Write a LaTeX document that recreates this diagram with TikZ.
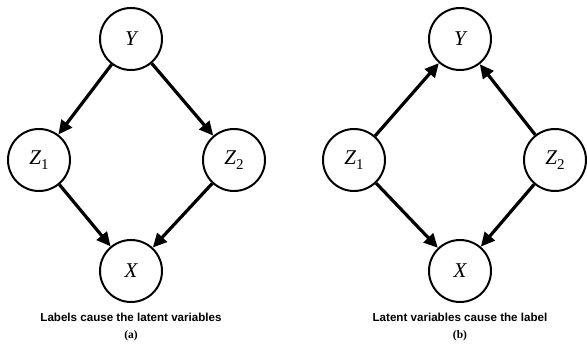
\documentclass[tikz,border=0pt]{standalone}
\usepackage{fontspec}
\setmainfont{Liberation Serif}
\setsansfont{Liberation Sans}
\usetikzlibrary{arrows.meta}
\newcommand{\subdigit}[1]{\raisebox{-0.45ex}{\fontsize{15}{15}\selectfont\upshape #1}}
\begin{document}
\begin{tikzpicture}[x=1pt,y=-1pt,
  var/.style={circle,draw,line width=2pt,minimum size=62pt,inner sep=0pt,font=\fontsize{21}{24}\selectfont\itshape},
  edge/.style={line width=3.2pt,-{Triangle[length=14pt,width=13pt]}},
  captext/.style={font=\sffamily\bfseries\fontsize{11.6}{13}\selectfont},
  sublabel/.style={font=\rmfamily\bfseries\fontsize{11.5}{13}\selectfont}]
\useasboundingbox (0,0) rectangle (587,352);
% panel (a)
\node[var] (ya) at (131,39) {Y};
\node[var] (z1a) at (39,160) {Z\subdigit{1}};
\node[var] (z2a) at (234,160) {Z\subdigit{2}};
\node[var] (xa) at (131,271) {X};
\draw[edge] (ya) -- (z1a);
\draw[edge] (ya) -- (z2a);
\draw[edge] (z1a) -- (xa);
\draw[edge] (z2a) -- (xa);
\node[captext] (ca) at (131,317) {Labels cause the latent variables};
\node[sublabel] (la) at (131,336) {(a)};
% panel (b)
\node[var] (yb) at (460,39) {Y};
\node[var] (z1b) at (354,160) {Z\subdigit{1}};
\node[var] (z2b) at (555,160) {Z\subdigit{2}};
\node[var] (xb) at (460,271) {X};
\draw[edge] (z1b) -- (yb);
\draw[edge] (z2b) -- (yb);
\draw[edge] (z1b) -- (xb);
\draw[edge] (z2b) -- (xb);
\node[captext] (cb) at (460,317) {Latent variables cause the label};
\node[sublabel] (lb) at (460,336) {(b)};
\end{tikzpicture}
\end{document}
